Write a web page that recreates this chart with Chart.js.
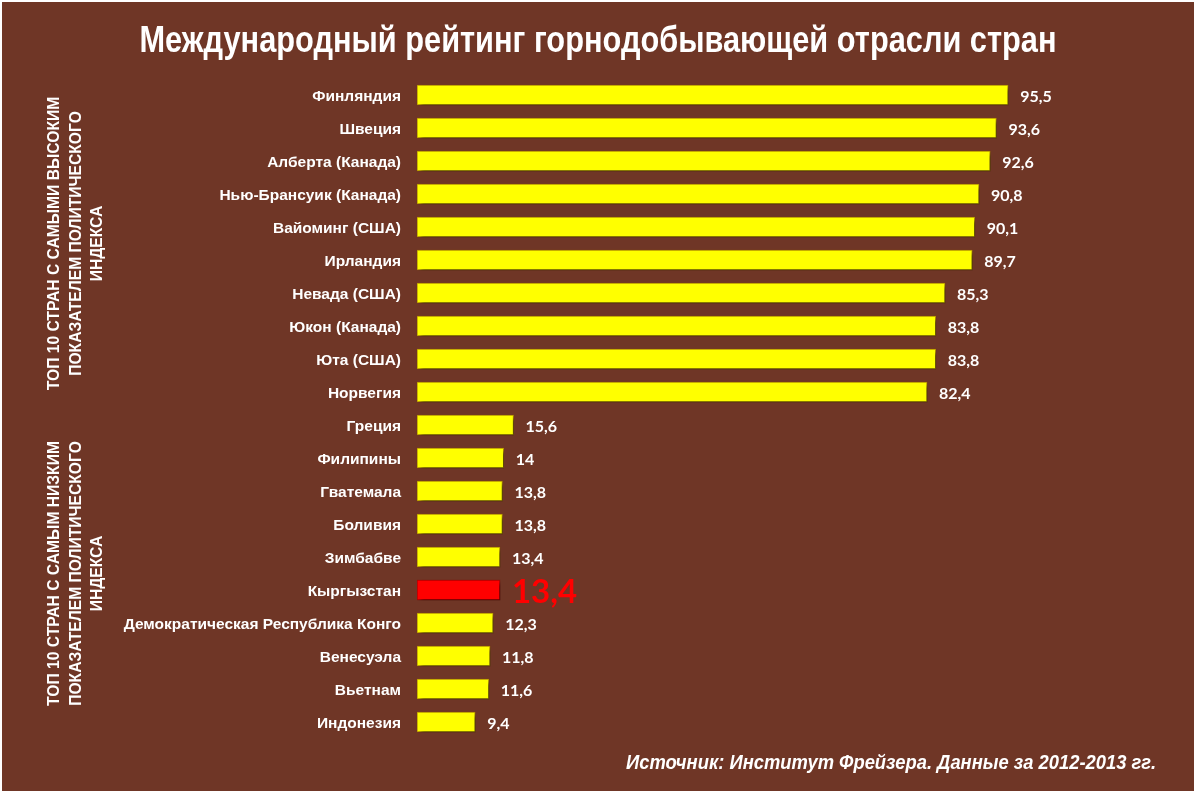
<!DOCTYPE html>
<html>
<head>
<meta charset="utf-8">
<script src="https://cdn.jsdelivr.net/npm/chart.js@4.4.0/dist/chart.umd.min.js"></script>
<style>
  html, body { margin: 0; padding: 0; background: #ffffff; }
  #wrap { width: 1196px; height: 793px; position: relative; }
</style>
</head>
<body>
<div id="wrap"><canvas id="ratingChart" width="1196" height="793"></canvas></div>
<script>
// Countries and their political index (Fraser Institute, 2012-2013)
const countries = [
  'Финляндия', 'Швеция', 'Алберта (Канада)', 'Нью-Брансуик (Канада)', 'Вайоминг (США)',
  'Ирландия', 'Невада (США)', 'Юкон (Канада)', 'Юта (США)', 'Норвегия',
  'Греция', 'Филипины', 'Гватемала', 'Боливия', 'Зимбабве',
  'Кыргызстан', 'Демократическая Республика Конго', 'Венесуэла', 'Вьетнам', 'Индонезия'
];
const indexValues = [
  95.5, 93.6, 92.6, 90.8, 90.1,
  89.7, 85.3, 83.8, 83.8, 82.4,
  15.6, 14, 13.8, 13.8, 13.4,
  13.4, 12.3, 11.8, 11.6, 9.4
];
const highlightCountry = 'Кыргызстан';

const chartTitle = 'Международный рейтинг горнодобывающей отрасли стран';
const sourceNote = 'Источник: Институт Фрейзера. Данные за 2012-2013 гг.';
const topGroupLines = ['ТОП 10 СТРАН С САМЫМИ ВЫСОКИМ', 'ПОКАЗАТЕЛЕМ ПОЛИТИЧЕСКОГО', 'ИНДЕКСА'];
const bottomGroupLines = ['ТОП 10 СТРАН С САМЫМ НИЗКИМ', 'ПОКАЗАТЕЛЕМ ПОЛИТИЧЕСКОГО', 'ИНДЕКСА'];

const BG = '#6f3626';
const SANS = '"Liberation Sans", Arial, sans-serif';
const NARROW_SCALE = 0.92; // no Arial Narrow here, so squeeze Arial horizontally

function formatValue(v) {
  return String(v).replace('.', ',');
}

// draws text squeezed horizontally, like a narrow face
function fillNarrow(ctx, text, x, y, align, squeeze) {
  const w = ctx.measureText(text).width * squeeze;
  let left = x;
  if (align === 'center') left = x - w / 2;
  if (align === 'right') left = x - w;
  ctx.save();
  ctx.textAlign = 'left';
  ctx.translate(left, y);
  ctx.scale(squeeze, 1);
  ctx.fillText(text, 0, 0);
  ctx.restore();
}

// background, border, title, source and the rotated group captions
const decorPlugin = {
  id: 'decor',
  beforeDraw(chart) {
    const ctx = chart.ctx;
    ctx.save();
    ctx.fillStyle = BG;
    ctx.fillRect(0, 0, chart.width, chart.height);
    ctx.strokeStyle = '#ffffff';
    ctx.lineWidth = 2;
    ctx.strokeRect(1, 1, chart.width - 2, chart.height - 2);

    ctx.fillStyle = '#ffffff';
    ctx.textBaseline = 'middle';
    ctx.font = 'bold 37px ' + SANS;
    const titleSqueeze = 917 / ctx.measureText(chartTitle).width;
    fillNarrow(ctx, chartTitle, 598, 42, 'center', titleSqueeze);

    ctx.font = 'italic bold 20px ' + SANS;
    fillNarrow(ctx, sourceNote, 1156, 763, 'right', 530 / ctx.measureText(sourceNote).width);

    // vertical captions, one per group of ten
    const y = chart.scales.y;
    const groups = [
      { lines: topGroupLines, from: 0, to: 9 },
      { lines: bottomGroupLines, from: 10, to: 19 }
    ];
    ctx.font = 'bold 17px ' + SANS;
    groups.forEach(g => {
      const cy = (y.getPixelForValue(g.from) + y.getPixelForValue(g.to)) / 2;
      ctx.save();
      ctx.translate(76, cy);
      ctx.rotate(-Math.PI / 2);
      g.lines.forEach((line, i) => {
        fillNarrow(ctx, line, 0, (i - 1) * 21.5, 'center', NARROW_SCALE);
      });
      ctx.restore();
    });
    ctx.restore();
  },
  beforeDatasetsDraw(chart) {
    const ctx = chart.ctx;
    ctx.save();
    ctx.shadowColor = 'rgba(0,0,0,0.55)';
    ctx.shadowBlur = 4;
    ctx.shadowOffsetX = 3;
    ctx.shadowOffsetY = 3;
  },
  afterDatasetsDraw(chart) {
    const ctx = chart.ctx;
    ctx.restore();

    // value labels at the end of each bar
    const meta = chart.getDatasetMeta(0);
    ctx.save();
    ctx.textBaseline = 'middle';
    ctx.textAlign = 'left';
    meta.data.forEach((bar, i) => {
      if (countries[i] === highlightCountry) {
        ctx.fillStyle = '#ff0000';
        ctx.font = 'bold 33px Lato, "Open Sans", sans-serif';
      } else {
        ctx.fillStyle = '#ffffff';
        ctx.font = 'bold 16px Lato, "Open Sans", sans-serif';
      }
      ctx.fillText(formatValue(indexValues[i]), bar.x + 12, bar.y + 2);
    });
    ctx.restore();
  }
};

const ctx = document.getElementById('ratingChart').getContext('2d');
new Chart(ctx, {
  type: 'bar',
  data: {
    labels: countries,
    datasets: [{
      data: indexValues,
      backgroundColor: countries.map(c => c === highlightCountry ? '#ff0000' : '#ffff00'),
      borderColor: countries.map(c => c === highlightCountry ? '#b00000' : '#b89400'),
      borderWidth: 1,
      borderSkipped: false,
      barThickness: 20
    }]
  },
  options: {
    indexAxis: 'y',
    responsive: false,
    animation: false,
    layout: { padding: { top: 78.5, bottom: 54.5, right: 160, left: 0 } },
    plugins: {
      legend: { display: false },
      title: { display: false },
      tooltip: { enabled: false }
    },
    scales: {
      x: {
        display: false,
        min: 0,
        max: 100
      },
      y: {
        grid: { display: false, drawTicks: false },
        border: { display: false },
        afterFit(scale) { scale.width = 417; },
        ticks: {
          padding: 16,
          labelOffset: 2,
          color: '#ffffff',
          font: { family: SANS, size: 15.5, weight: 'bold' }
        }
      }
    }
  },
  plugins: [decorPlugin]
});
</script>
</body>
</html>
